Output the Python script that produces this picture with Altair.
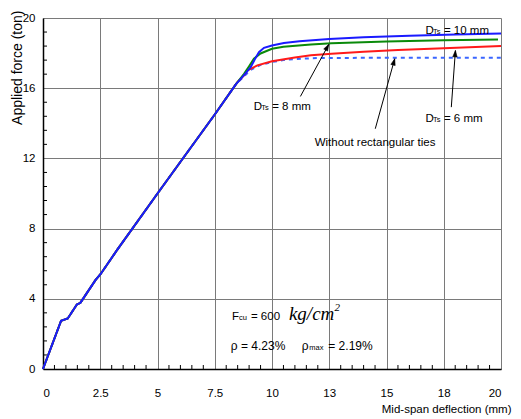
import math
import altair as alt
import pandas as pd

# ---------------- data ----------------
# shared initial branch (all specimens)
BASE_X = [0.0, 0.79, 1.08, 1.48, 1.63, 2.29, 2.51, 3.23, 5.0, 7.5, 8.42]
BASE_Y = [0.0, 2.75, 2.88, 3.68, 3.77, 5.06, 5.40, 6.77, 10.0, 14.5, 16.22]

D10_X = [8.75, 9.07, 9.25, 9.43, 9.65, 10.0, 10.52, 11.2, 12.5, 14.0, 16.0, 18.0, 20.0]
D10_Y = [16.70, 17.20, 17.65, 18.05, 18.30, 18.43, 18.57, 18.68, 18.80, 18.90, 18.99, 19.06, 19.12]

D8_X = [8.78, 9.0, 9.21, 9.5, 10.0, 10.5, 11.7, 12.6, 15.0, 17.5, 19.87]
D8_Y = [16.82, 17.25, 17.68, 17.98, 18.25, 18.36, 18.49, 18.56, 18.66, 18.73, 18.78]

D6_X = [8.49, 8.78, 8.93, 9.36, 10.0, 11.0, 11.7, 12.6, 14.0, 15.5, 17.5, 20.0]
D6_Y = [16.35, 16.73, 17.01, 17.30, 17.54, 17.75, 17.88, 17.96, 18.07, 18.18, 18.28, 18.40]

NT_X = [8.6, 9.07, 9.5, 10.0, 10.5, 11.0, 12.0, 14.0, 17.0, 20.0]
NT_Y = [16.45, 17.05, 17.33, 17.49, 17.60, 17.66, 17.72, 17.73, 17.73, 17.73]

X_TICKS = [0, 2.5, 5, 7.5, 10, 12.5, 15, 17.5, 20]
Y_TICKS = [0, 4, 8, 12, 16, 20]
X_MINOR = [0.5, 1, 1.5, 2, 3, 3.5, 4, 4.5, 5.5, 6, 6.5, 7, 8, 8.5, 9, 9.5,
           10.5, 11, 11.5, 12, 13, 13.5, 14, 14.5, 15.5, 16, 16.5, 17, 18, 18.5, 19, 19.5]
Y_MINOR = [0.8, 1.6, 2.4, 3.2, 4.8, 5.6, 6.4, 7.2, 8.8, 9.6, 10.4, 11.2,
           12.8, 13.6, 14.4, 15.2, 16.8, 17.6, 18.4, 19.2]

# arrows: (label, x_start, y_start, x_tip, y_tip)
ARROWS = [
    ("8mm", 11.24, 15.53, 12.48, 18.50),
    ("none", 14.51, 13.69, 15.36, 17.68),
    ("6mm", 17.83, 14.92, 18.01, 18.15),
]

# labels D_Ts = ...
D_LABELS = [("= 10 mm", 16.70, 19.10), ("= 8 mm", 9.20, 14.74), ("= 6 mm", 16.70, 14.07)]

W, H = 458, 351
XMAX, YMAX = 20, 20

SANS = "Liberation Sans, Arial, sans-serif"
SERIF = "Liberation Serif, Times New Roman, serif"

xs = alt.Scale(domain=[0, XMAX], nice=False, zero=False)
ys = alt.Scale(domain=[0, YMAX], nice=False, zero=False)

AX_X = alt.Axis(
    values=X_TICKS, format="~g", grid=True, ticks=False, title="Mid-span deflection (mm)",
    labelFont=SANS, labelFontSize=11.5, labelPadding=18, labelColor="black",
    titleFont=SANS, titleFontSize=11.5, titleFontWeight="normal", titleColor="black",
    titleX=468, titleY=43, titleAlign="right", titleBaseline="alphabetic",
    domainColor="black", domainWidth=1.5, gridColor="#7a7a7a", gridWidth=1)
AX_Y = alt.Axis(
    values=Y_TICKS, grid=True, ticks=False, title="Applied force (ton)",
    labelFont=SANS, labelFontSize=11.5, labelPadding=8, labelColor="black",
    titleFont=SANS, titleFontSize=14, titleFontWeight="normal", titleColor="black",
    titleX=-22, titleY=-8, titleAngle=-90, titleAlign="right", titleBaseline="alphabetic",
    domainColor="black", domainWidth=1.5, gridColor="#7a7a7a", gridWidth=1)


def X(f="x"):
    return alt.X(f, type="quantitative", scale=xs, axis=AX_X)


def Y(f="y"):
    return alt.Y(f, type="quantitative", scale=ys, axis=AX_Y)


# inward minor ticks
xminor = alt.Chart(pd.DataFrame({"xm": X_MINOR})).mark_tick(
    color="black", thickness=1, size=4, orient="vertical", opacity=1
).encode(x=alt.X("xm:Q", scale=xs, axis=AX_X), y=alt.value(H - 2))
yminor = alt.Chart(pd.DataFrame({"ym": Y_MINOR})).mark_tick(
    color="black", thickness=1, size=4, orient="horizontal", opacity=1
).encode(y=alt.Y("ym:Q", scale=ys, axis=AX_Y), x=alt.value(2))


def line(xv, yv, color, dash=None):
    kw = dict(color=color, strokeWidth=2)
    if dash:
        kw["strokeDash"] = dash
    df = pd.DataFrame({"x": BASE_X + xv, "y": BASE_Y + yv})
    return alt.Chart(df).mark_line(**kw).encode(x=X(), y=Y(), order="x:Q")


l_nt = line(NT_X, NT_Y, "#3a66ff", [4, 4])
l_6 = line(D6_X, D6_Y, "#ff1a1a")
l_8 = line(D8_X, D8_Y, "#0a8a0a")
l_10 = line(D10_X, D10_Y, "#1a1aff")

# arrows
adf = pd.DataFrame(ARROWS, columns=["k", "x1", "y1", "x2", "y2"])
px = W / XMAX
py = H / YMAX
adf["ang"] = [
    (math.degrees(math.atan2((r.x2 - r.x1) * px, (r.y2 - r.y1) * py)) + 360) % 360
    for r in adf.itertuples()
]
shafts = alt.Chart(adf).mark_rule(color="black", strokeWidth=1).encode(
    x=X("x1"), y=Y("y1"), x2="x2:Q", y2="y2:Q")
heads = alt.Chart(adf).mark_point(
    shape="M0,0L-0.45,1.3L0.45,1.3Z", filled=True, fill="black", stroke="black",
    strokeWidth=0.5, opacity=1, fillOpacity=1, size=100
).encode(x=X("x2"), y=Y("y2"), angle=alt.Angle("ang:Q", scale=None))


def txt(df, text=None, size=11.5, dx=0, dy=0, font=SANS, style=None, align="left", xf="x", yf="y"):
    kw = dict(align=align, baseline="alphabetic", font=font, fontSize=size, color="black",
              dx=dx, dy=dy)
    if text is not None:
        kw["text"] = text
    if style:
        kw["fontStyle"] = style
    enc = dict(x=X(xf), y=Y(yf))
    if text is None:
        enc["text"] = "t:N"
    return alt.Chart(df).mark_text(**kw).encode(**enc)


# D_Ts labels
ddf = pd.DataFrame(D_LABELS, columns=["t", "x", "y"])
d_big = txt(ddf, "D", 11.5)
d_sub = txt(ddf, "Ts", 7.5, dx=7.5)
d_rest = txt(ddf, None, 11.5, dx=18.5)

without = txt(pd.DataFrame({"x": [14.5], "y": [12.72], "t": ["Without rectangular ties"]}),
              None, 11.5, align="center")

# parameters box
FCU = "600"
RHO = "4.23%"
RHO_MAX = "2.19%"
pdf = pd.DataFrame({"x": [8.25], "y": [2.79], "x2": [8.2], "y2": [1.09]})
t_f = txt(pdf, "F", 11.5)
t_cu = txt(pdf, "cu", 7.5, dx=7)
t_600 = txt(pdf, "= " + FCU, 11.5, dx=19)
t_kg = txt(pdf, "kg/cm", 19, dx=57, font=SERIF, style="italic")
t_sq = txt(pdf, "2", 11, dx=102.5, dy=-9, font=SERIF, style="italic")
t_rho = txt(pdf, "\u03c1 = " + RHO, 12, xf="x2", yf="y2")
t_rho2 = txt(pdf, "\u03c1", 12, dx=71, xf="x2", yf="y2")
t_max = txt(pdf, "max", 7.5, dx=78.5, xf="x2", yf="y2")
t_rm = txt(pdf, "= " + RHO_MAX, 12, dx=97.5, xf="x2", yf="y2")

chart = alt.layer(
    l_nt, l_6, l_8, l_10, shafts, heads,
    d_big, d_sub, d_rest, without, t_f, t_cu, t_600, t_kg, t_sq, t_rho, t_rho2, t_max, t_rm,
    xminor, yminor,
).properties(
    width=W, height=H,
    autosize=alt.AutoSizeParams(type="none"),
    padding={"left": 43, "top": 18, "right": 20, "bottom": 50},
    background="white",
).configure_view(stroke=None, clip=False)

chart.save("out.html", embed_options={"renderer": "svg", "actions": False})
